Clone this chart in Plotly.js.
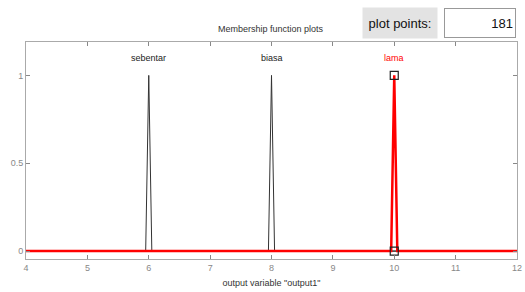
<!DOCTYPE html>
<html>
<head>
<meta charset="utf-8">
<script src="https://cdn.plot.ly/plotly-3.0.1.min.js"></script>
<style>html,body{margin:0;padding:0;background:#fff;}#chart{width:525px;height:292px;}</style>
</head>
<body>
<div id="chart"></div>
<script>
// Membership functions (trimf params) of output variable "output1"
const mfNames = ["sebentar", "biasa", "lama"];
const mfParams = [
  [5.95, 6, 6.05],
  [7.95, 8, 8.05],
  [9.95, 10, 10.05]
];
const xRange = [4, 12];
const xTicks = [4, 5, 6, 7, 8, 9, 10, 11, 12];
const yTicks = [0, 0.5, 1];
const selectedIndex = 2;
const plotPoints = 181;

const traces = [];
mfParams.forEach((p, i) => {
  if (i === selectedIndex) return;
  traces.push({
    x: [xRange[0], p[0], p[1], p[2], xRange[1]],
    y: [0, 0, 1, 0, 0],
    mode: 'lines', type: 'scatter',
    line: {color: '#333333', width: 1},
    hoverinfo: 'skip', showlegend: false
  });
});
const sp = mfParams[selectedIndex];
traces.push({
  x: [xRange[0], sp[0], sp[1], sp[2], xRange[1]],
  y: [0, 0, 1, 0, 0],
  mode: 'lines', type: 'scatter',
  line: {color: '#ff0000', width: 2.5},
  hoverinfo: 'skip', showlegend: false
});
traces.push({
  x: [sp[1], sp[1]],
  y: [1, 0],
  mode: 'markers', type: 'scatter',
  marker: {symbol: 'square-open', size: 8, color: '#222', line: {width: 1.2, color: '#222'}},
  hoverinfo: 'skip', showlegend: false
});

const px2x = px => (px - 26) / 491;
const px2y = py => (259 - py) / 217;

const annotations = mfNames.map((n, i) => ({
  x: mfParams[i][1], y: 1.1, xref: 'x', yref: 'y', xanchor: 'center', yanchor: 'middle',
  text: n, showarrow: false,
  font: {family: 'Arial, Liberation Sans, sans-serif', size: 9, color: i === selectedIndex ? '#ff0000' : '#222'}
}));
annotations.push({
  x: px2x(271), y: px2y(29), xref: 'paper', yref: 'paper', xanchor: 'center', yanchor: 'middle',
  text: 'Membership function plots',
  showarrow: false, font: {family: 'Arial, Liberation Sans, sans-serif', size: 9, color: '#333'}
});
annotations.push({
  x: px2x(400), y: px2y(23), xref: 'paper', yref: 'paper', xanchor: 'center', yanchor: 'middle',
  text: 'plot points:', showarrow: false, width: 72, height: 28,
  bgcolor: '#e3e3e3', borderpad: 1,
  font: {family: 'Arial, Liberation Sans, sans-serif', size: 13, color: '#111'}
});
annotations.push({
  x: px2x(480), y: px2y(23), xref: 'paper', yref: 'paper', xanchor: 'center', yanchor: 'middle',
  text: String(plotPoints), showarrow: false, width: 66, height: 24, align: 'right',
  bgcolor: '#ffffff', bordercolor: '#999', borderwidth: 1, borderpad: 2,
  font: {family: 'Arial, Liberation Sans, sans-serif', size: 13, color: '#111'}
});

const layout = {
  width: 525, height: 292,
  margin: {l: 26, r: 8, t: 42, b: 33},
  paper_bgcolor: '#ffffff', plot_bgcolor: '#ffffff',
  font: {family: 'Arial, Liberation Sans, sans-serif', size: 9, color: '#888'},
  xaxis: {
    range: xRange, tickvals: xTicks, ticks: 'inside', ticklen: 4, tickcolor: '#888',
    showline: true, linecolor: '#aaa', linewidth: 1, mirror: 'ticks',
    showgrid: false, zeroline: false,
    tickfont: {size: 9, color: '#888'},
    title: {text: 'output variable "output1"', standoff: 7, font: {size: 9, color: '#333'}}
  },
  yaxis: {
    range: [-0.045, 1.19], tickvals: yTicks, ticktext: ['0', '0.5', '1'],
    ticks: 'inside', ticklen: 4, tickcolor: '#888',
    showline: true, linecolor: '#aaa', linewidth: 1, mirror: 'ticks',
    showgrid: false, zeroline: false,
    tickfont: {size: 9, color: '#888'}
  },
  annotations: annotations
};
Plotly.newPlot('chart', traces, layout, {displayModeBar: false, staticPlot: true});
</script>
</body>
</html>
